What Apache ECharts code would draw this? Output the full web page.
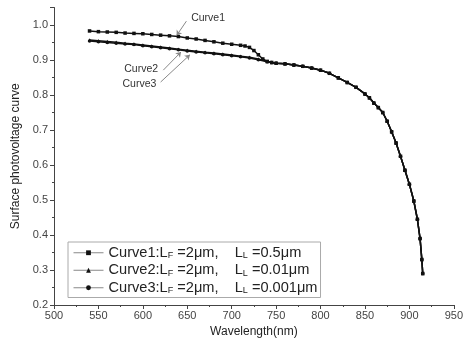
<!DOCTYPE html>
<html>
<head>
<meta charset="utf-8">
<script src="https://cdn.jsdelivr.net/npm/echarts@6/dist/echarts.min.js"></script>
<style>
  html, body { margin: 0; padding: 0; background: #fff; }
  #chart { width: 466px; height: 349px; }
</style>
</head>
<body>
<div id="chart"></div>
<script>
// values
const curve1X = [540, 550, 560, 570, 580, 590, 600, 610, 620, 630, 640, 650, 660, 670, 680, 690, 700, 710, 715, 720, 725, 730, 735, 740];
const curve1Y = [0.983, 0.981, 0.980, 0.979, 0.977, 0.976, 0.975, 0.973, 0.971, 0.969, 0.967, 0.963, 0.960, 0.956, 0.952, 0.948, 0.945, 0.942, 0.940, 0.936, 0.927, 0.915, 0.903, 0.896];

const curve2X = [540, 550, 560, 570, 580, 590, 600, 610, 620, 630, 640, 650, 660, 670, 680, 690, 700, 710, 720, 730, 740];
const curve2Y = [0.957, 0.955, 0.953, 0.951, 0.948, 0.946, 0.943, 0.940, 0.937, 0.934, 0.931, 0.928, 0.925, 0.922, 0.920, 0.917, 0.914, 0.911, 0.908, 0.903, 0.896];
const curve3Y = [0.954, 0.952, 0.950, 0.948, 0.946, 0.944, 0.941, 0.938, 0.935, 0.932, 0.929, 0.926, 0.923, 0.921, 0.918, 0.915, 0.912, 0.909, 0.906, 0.901, 0.895];

// shared tail where all three curves coincide
const tailX = [745, 750, 760, 770, 780, 790, 800, 810, 820, 830, 840, 850, 855, 860, 865, 870, 875, 880, 885, 890, 895, 900, 905, 909, 912, 914, 915];
const tailY = [0.893, 0.891, 0.889, 0.886, 0.882, 0.877, 0.871, 0.862, 0.849, 0.836, 0.822, 0.803, 0.792, 0.777, 0.764, 0.750, 0.725, 0.695, 0.663, 0.625, 0.585, 0.545, 0.497, 0.445, 0.390, 0.330, 0.290];

const legendNames = ['Curve1', 'Curve2', 'Curve3'];
const legendLabels = {
  Curve1: 'Curve1:L{s|F} =2\u03bcm,    L{s|L} =0.5\u03bcm',
  Curve2: 'Curve2:L{s|F} =2\u03bcm,    L{s|L} =0.01\u03bcm',
  Curve3: 'Curve3:L{s|F} =2\u03bcm,    L{s|L} =0.001\u03bcm'
};

const pairs = (xs, ys) => xs.map((x, i) => [x, ys[i]]);

const font = 'Liberation Sans, Arial, sans-serif';
const chart = echarts.init(document.getElementById('chart'));

function callout(text, from, to, offset) {
  return {
    silent: true,
    animation: false,
    symbol: ['none', 'arrow'],
    symbolSize: 5,
    lineStyle: { color: '#888', width: 1, type: 'solid' },
    label: {
      show: true, position: 'start', formatter: text, offset,
      color: '#333', fontSize: 10.5, fontFamily: font, distance: 3
    },
    data: [[{ coord: from }, { coord: to }]]
  };
}

function makeSeries(name, data, symbol, mark) {
  return {
    name,
    type: 'line',
    data,
    symbol,
    symbolSize: 3.5,
    showAllSymbol: true,
    lineStyle: { color: '#111', width: 1.5 },
    itemStyle: { color: '#111' },
    emphasis: { disabled: true },
    animation: false,
    markLine: mark
  };
}

const option = {
  animation: false,
  grid: { left: 54, right: 8, top: 7.5, bottom: 44 },
  legend: {
    data: legendNames,
    orient: 'vertical',
    left: 68,
    top: 242,
    itemGap: 2,
    itemWidth: 30,
    itemHeight: 6,
    padding: [3, 3, 2, 5],
    borderColor: '#aaa',
    borderWidth: 1,
    backgroundColor: '#fff',
    lineStyle: { color: '#888', width: 1 },
    itemStyle: { color: '#111' },
    formatter: n => legendLabels[n],
    textStyle: {
      color: '#222', fontSize: 14.6, fontFamily: font, lineHeight: 15.5,
      rich: { s: { fontSize: 9, verticalAlign: 'bottom', padding: [4, 0, 0, 0], color: '#222', fontFamily: font, lineHeight: 15.5 } }
    }
  },
  xAxis: {
    type: 'value',
    min: 500, max: 950, interval: 50,
    name: 'Wavelength(nm)',
    nameLocation: 'middle',
    nameGap: 21,
    nameTextStyle: { color: '#222', fontSize: 12, fontFamily: font },
    axisLine: { lineStyle: { color: '#444' } },
    axisTick: { inside: false, length: 4, lineStyle: { color: '#444' } },
    minorTick: { show: true, splitNumber: 2, length: 2, lineStyle: { color: '#444' } },
    axisLabel: { color: '#444', fontSize: 11, fontFamily: font, margin: 5 },
    splitLine: { show: false }
  },
  yAxis: {
    type: 'value',
    min: 0.2, max: 1.05, interval: 0.1,
    name: 'Surface photovoltage curve',
    nameLocation: 'middle',
    nameGap: 32,
    nameTextStyle: { color: '#222', fontSize: 12, fontFamily: font },
    axisLine: { show: true, lineStyle: { color: '#444' } },
    axisTick: { show: true, inside: false, length: 4, lineStyle: { color: '#444' } },
    minorTick: { show: true, splitNumber: 2, length: 2, lineStyle: { color: '#444' } },
    axisLabel: {
      color: '#444', fontSize: 11, fontFamily: font, margin: 6,
      formatter: v => (v > 1.0001 ? '' : v.toFixed(1))
    },
    splitLine: { show: false }
  },
  series: [
    makeSeries('Curve1', pairs(curve1X, curve1Y).concat(pairs(tailX, tailY)), 'rect',
      callout('Curve1', [649, 1.011], [638, 0.970], [20, 5])),
    makeSeries('Curve2', pairs(curve2X, curve2Y).concat(pairs(tailX, tailY)), 'triangle',
      callout('Curve2', [623, 0.871], [643, 0.923], [-20, -3])),
    makeSeries('Curve3', pairs(curve2X, curve3Y).concat(pairs(tailX, tailY)), 'circle',
      callout('Curve3', [620, 0.837], [653, 0.915], [-19, 0]))
  ]
};

chart.setOption(option);
</script>
</body>
</html>
